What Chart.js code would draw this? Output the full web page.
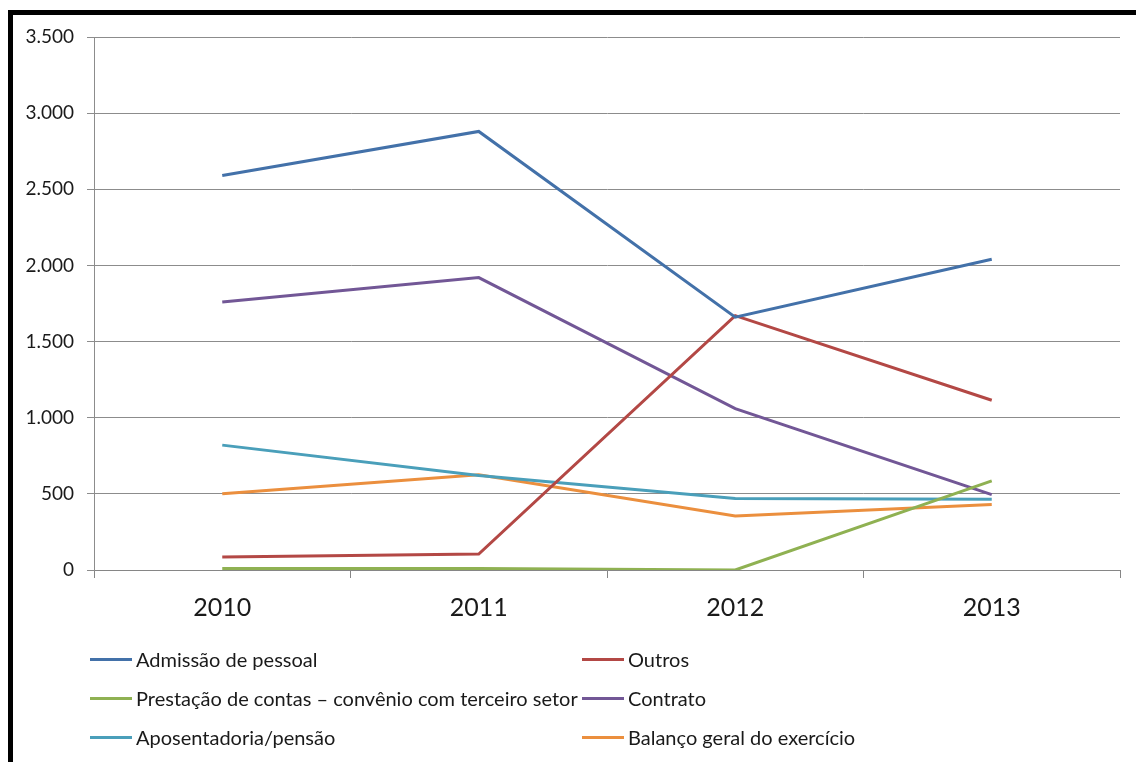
<!DOCTYPE html>
<html>
<head>
<meta charset="utf-8">
<script src="https://cdn.jsdelivr.net/npm/chart.js@4"></script>
<style>
  html, body { margin: 0; padding: 0; background: #fff; }
  #wrap { position: relative; width: 1136px; height: 762px; overflow: hidden; font-family: Lato, "Open Sans", sans-serif; }
  #chart-box { position: absolute; left: 0; top: 0; width: 1136px; height: 640px; }
  #border-top { position: absolute; left: 8px; top: 10px; width: 1128px; height: 5px; background: #000; }
  #border-left { position: absolute; left: 8px; top: 10px; width: 5px; height: 752px; background: #000; }
  #legend { position: absolute; left: 0; top: 640px; width: 1136px; height: 122px; }
  .leg-item { position: absolute; height: 26px; display: flex; align-items: center; font-size: 20px; color: #1a1a1a; white-space: nowrap; }
  .leg-line { display: inline-block; width: 42px; height: 3px; margin-right: 4px; }
</style>
</head>
<body>
<div id="wrap">
  <div id="chart-box"><canvas id="chart"></canvas></div>
  <div id="border-top"></div>
  <div id="border-left"></div>
  <div id="legend"></div>
</div>
<script>
// anos
var categories = ['2010', '2011', '2012', '2013'];

// valores
var admissao = [2590, 2880, 1660, 2040];
var outros = [85, 105, 1670, 1115];
var prestacao = [10, 10, 0, 585];
var contrato = [1760, 1920, 1060, 495];
var aposentadoria = [820, 620, 470, 465];
var balanco = [500, 625, 355, 430];

var seriesNames = [
  'Admissão de pessoal',
  'Outros',
  'Prestação de contas – convênio com terceiro setor',
  'Contrato',
  'Aposentadoria/pensão',
  'Balanço geral do exercício'
];
var seriesValues = [admissao, outros, prestacao, contrato, aposentadoria, balanco];
var seriesColors = ['#4371A9', '#B34845', '#8FB152', '#725796', '#4A9FBA', '#EB8F3E'];

var yMin = 0, yMax = 3500, yStep = 500;

function fmt(v) {
  return String(v).replace(/\B(?=(\d{3})+(?!\d))/g, '.');
}

var datasets = seriesNames.map(function(name, i) {
  return {
    label: name,
    data: seriesValues[i],
    borderColor: seriesColors[i],
    backgroundColor: seriesColors[i],
    borderWidth: 3,
    pointRadius: 0,
    tension: 0,
    fill: false
  };
});

var ctx = document.getElementById('chart').getContext('2d');
var chart = new Chart(ctx, {
  type: 'line',
  data: { labels: categories, datasets: datasets },
  options: {
    responsive: true,
    maintainAspectRatio: false,
    animation: false,
    layout: { padding: { left: 0, right: 16, top: 37, bottom: 0 } },
    plugins: {
      legend: { display: false },
      tooltip: { enabled: false }
    },
    scales: {
      x: {
        offset: true,
        grid: { offset: true, drawOnChartArea: false, drawTicks: true, tickLength: 8, color: '#868686' },
        border: { display: true, color: '#868686', width: 1 },
        ticks: { color: '#1a1a1a', font: { family: 'Lato', size: 25 }, padding: 15, maxRotation: 0 },
        afterFit: function(scale) { scale.height = 70; }
      },
      y: {
        min: yMin,
        max: yMax,
        ticks: {
          stepSize: yStep,
          color: '#1a1a1a',
          font: { family: 'Lato', size: 19 },
          padding: 13,
          callback: function(v) { return fmt(v); }
        },
        grid: { color: '#8c8c8c', lineWidth: 1, tickLength: 7 },
        border: { display: true, color: '#8c8c8c', width: 1 },
        afterFit: function(scale) { scale.width = 94; }
      }
    }
  }
});

// legenda em duas colunas
var legend = document.getElementById('legend');
var colX = [90, 582];
var rowY = [6, 45, 84];
chart.data.datasets.forEach(function(ds, i) {
  var item = document.createElement('div');
  item.className = 'leg-item';
  item.style.left = colX[i % 2] + 'px';
  item.style.top = rowY[Math.floor(i / 2)] + 'px';
  var line = document.createElement('span');
  line.className = 'leg-line';
  line.style.background = ds.borderColor;
  var txt = document.createElement('span');
  txt.textContent = ds.label;
  item.appendChild(line);
  item.appendChild(txt);
  legend.appendChild(item);
});
</script>
</body>
</html>
